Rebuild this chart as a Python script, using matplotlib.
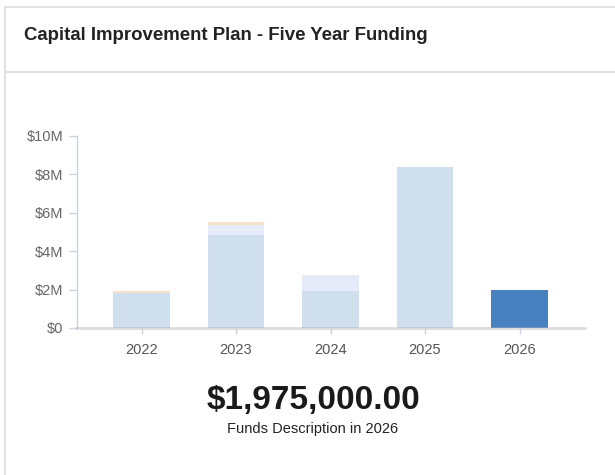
import matplotlib.pyplot as plt
from matplotlib.lines import Line2D
from matplotlib.ticker import FuncFormatter

plt.rcParams['font.family'] = ['Liberation Sans', 'DejaVu Sans']

# funding per year, in millions, split by source
years = ['2022', '2023', '2024', '2025', '2026']
source_a = [1.81, 4.84, 1.93, 8.39, 1.975]
source_b = [0.0, 0.54, 0.83, 0.0, 0.0]
source_c = [0.12, 0.14, 0.0, 0.0, 0.0]
selected = 4
selected_total = 1975000.00

W, H = 615, 475
fig = plt.figure(figsize=(W / 100, H / 100), dpi=100)

# card frame and header separator
def px(x, y):
    return x / W, 1 - y / H

for (x0, y0), (x1, y1) in [((5, 7), (W, 7)), ((5, 7), (5, H)), ((5, 72), (W, 72))]:
    a, b = px(x0, y0)
    c, d = px(x1, y1)
    fig.add_artist(Line2D([a, c], [b, d], color='#dcdcdc', lw=1.2))

fig.text(24 / W, 1 - 36 / H, 'Capital Improvement Plan - Five Year Funding',
         fontsize=13.4, fontweight='bold', color='#222222', va='center', ha='left')

ax = fig.add_axes([77 / W, 1 - 328 / H, (585 - 77) / W, (328 - 136) / H])
xs = range(len(years))
cols_a = ['#4781c0' if i == selected else '#d0dfee' for i in xs]
bottom_b = source_a
bottom_c = [a + b for a, b in zip(source_a, source_b)]
ax.bar(xs, source_a, width=0.6, color=cols_a, zorder=2)
ax.bar(xs, source_b, width=0.6, bottom=bottom_b, color='#e5ebf8', zorder=2)
ax.bar(xs, source_c, width=0.6, bottom=bottom_c, color='#f6e2c6', zorder=2)

ax.set_xlim(-0.683, 4.693)
ax.set_ylim(0, 10)
ax.set_yticks([0, 2, 4, 6, 8, 10])
ax.yaxis.set_major_formatter(FuncFormatter(lambda v, p: '$0' if v == 0 else '$%dM' % v))
ax.set_xticks(list(xs))
ax.set_xticklabels(years)

for s in ['top', 'right']:
    ax.spines[s].set_visible(False)
ax.spines['left'].set_color('#ccd3dc')
ax.spines['left'].set_linewidth(1)
ax.spines['bottom'].set_color('#b0b4bc')
ax.spines['bottom'].set_alpha(0.45)
ax.spines['bottom'].set_linewidth(2)
ax.spines['bottom'].set_zorder(3)
ax.tick_params(axis='y', length=6, width=1, color='#ccd3dc', labelcolor='#666666',
               labelsize=10.5, pad=4)
ax.tick_params(axis='x', length=4, width=1, color='#ccd3dc', labelcolor='#555555',
               labelsize=10.5, pad=7)

fig.text(313 / W, 1 - 400 / H, '${:,.2f}'.format(selected_total), fontsize=24,
         fontweight='bold', color='#1a1a1a', ha='center', va='center')
fig.text(313 / W, 1 - 429 / H, 'Funds Description in ' + years[selected], fontsize=10.5,
         color='#222222', ha='center', va='center')

fig.savefig('out.png', dpi=100)
